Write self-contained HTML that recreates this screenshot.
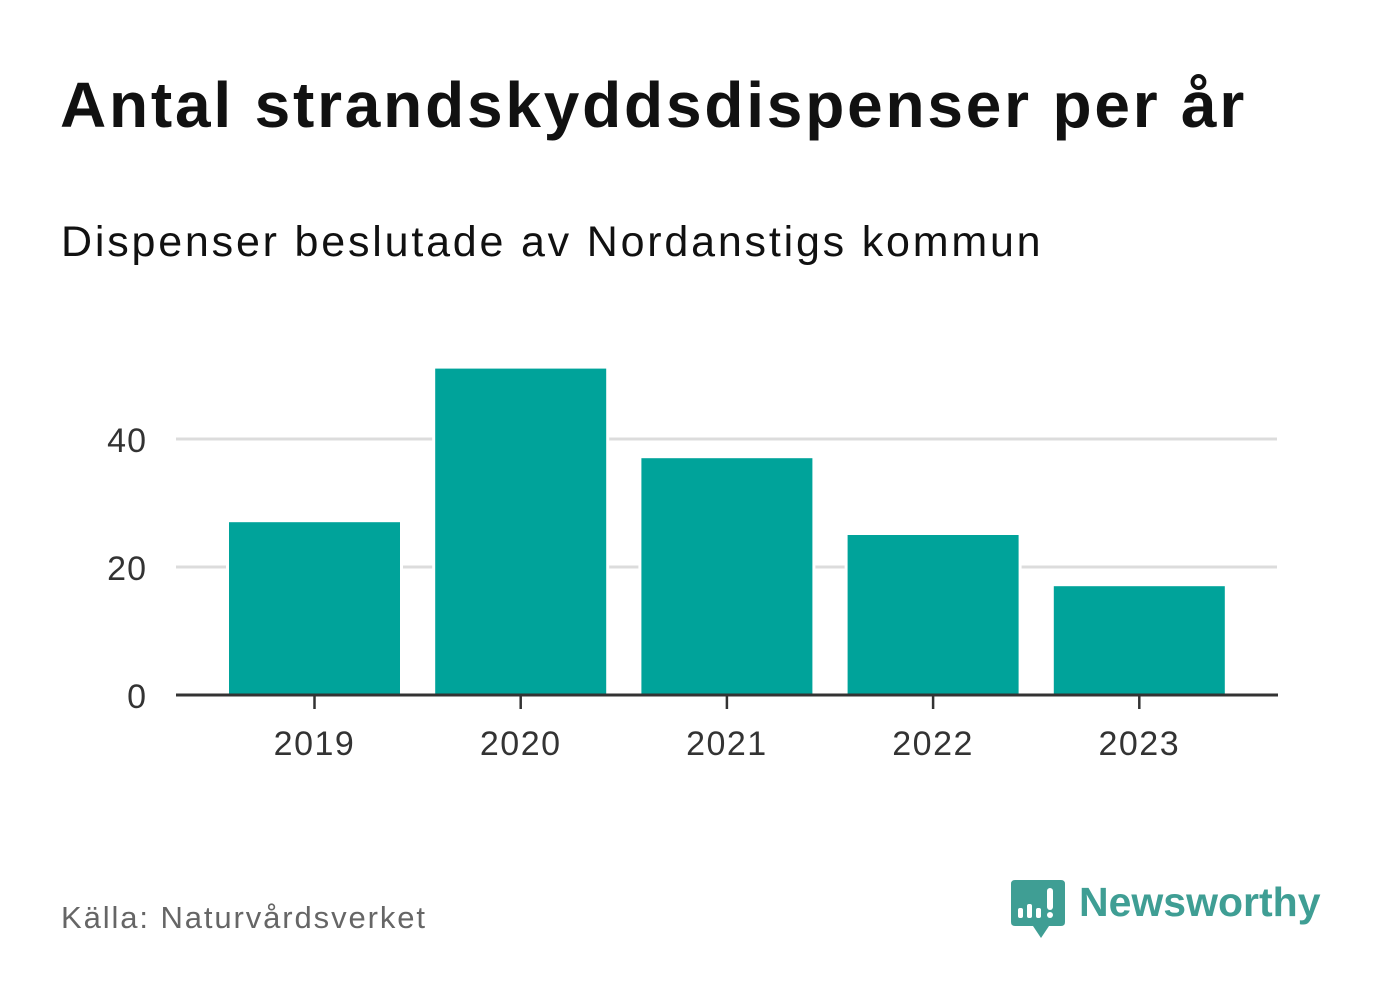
<!DOCTYPE html>
<html><head><meta charset="utf-8"><style>
body{margin:0;width:1382px;height:999px;background:#fff;font-family:"Liberation Sans","DejaVu Sans",sans-serif;overflow:hidden;position:relative}
.t{position:absolute;white-space:nowrap}
</style></head><body>
<div class="t" style="left:60px;top:68px;font-size:64px;font-weight:bold;color:#111;letter-spacing:2.8px">Antal strandskyddsdispenser per år</div>
<div class="t" style="left:61px;top:218px;font-size:43px;color:#111;letter-spacing:2.8px">Dispenser beslutade av Nordanstigs kommun</div>
<svg id="chart" width="1382" height="999" style="position:absolute;left:0;top:0"></svg>
<div class="t" style="left:61px;top:900px;font-size:31px;color:#666;letter-spacing:1.9px">Källa: Naturvårdsverket</div>
<svg width="56" height="62" style="position:absolute;left:1011px;top:880px">
<path d="M4 0H50Q54 0 54 4V42Q54 46 50 46H38L30 58L22 46H4Q0 46 0 42V4Q0 0 4 0Z" fill="#3f9e94"/>
<rect x="7" y="28" width="5" height="10" rx="2" fill="#fff"/><rect x="16" y="24" width="5" height="14" rx="2" fill="#fff"/><rect x="25" y="28" width="5" height="10" rx="2" fill="#fff"/>
<rect x="36" y="8" width="6" height="22" rx="3" fill="#fff"/><circle cx="39" cy="35" r="3" fill="#fff"/></svg>
<div class="t" style="left:1079px;top:879px;font-size:41px;font-weight:bold;color:#3f9e94">Newsworthy</div>
<script>
const categories=["2019","2020","2021","2022","2023"];
const values=[27,51,37,25,17];
const yTicks=[0,20,40];
const svg=document.getElementById('chart');
const NS="http://www.w3.org/2000/svg";
const x0=176,x1=1278,y0=695,pxPerUnit=6.4;
const y=v=>y0-v*pxPerUnit;
const step=206.2,bw=171,firstCenter=314.5;
const xc=i=>firstCenter+i*step;
function mk(t,a){const e=document.createElementNS(NS,t);for(const k in a)e.setAttribute(k,a[k]);svg.appendChild(e);return e;}
yTicks.forEach(v=>{
 if(v>0){const g=mk('line',{x1:x0,x2:1277,y1:y(v),y2:y(v),stroke:'#dcdcdc','stroke-width':3});
 
 }
 const t=mk('text',{x:147,y:y(v)+13,'text-anchor':'end','font-size':34,fill:'#333','letter-spacing':1,'font-family':'Liberation Sans, sans-serif'});
 t.textContent=v;
 
 
});
categories.forEach((c,i)=>{
 const r=mk('rect',{x:xc(i)-bw/2,y:y(values[i]),width:bw,height:values[i]*pxPerUnit,fill:'#00a39a',stroke:'#fff','stroke-width':6,'paint-order':'stroke'});
 
 
 const tk=mk('line',{x1:xc(i),x2:xc(i),y1:y0,y2:y0+14,stroke:'#333','stroke-width':2.5});
 
 
 const t=mk('text',{x:xc(i),y:755,'text-anchor':'middle','font-size':34,fill:'#333','letter-spacing':1.5,'font-family':'Liberation Sans, sans-serif'});
 t.textContent=c;
 
 
});
const ax=mk('line',{x1:x0,x2:x1,y1:y0,y2:y0,stroke:'#333','stroke-width':3});


</script>
</body></html>
